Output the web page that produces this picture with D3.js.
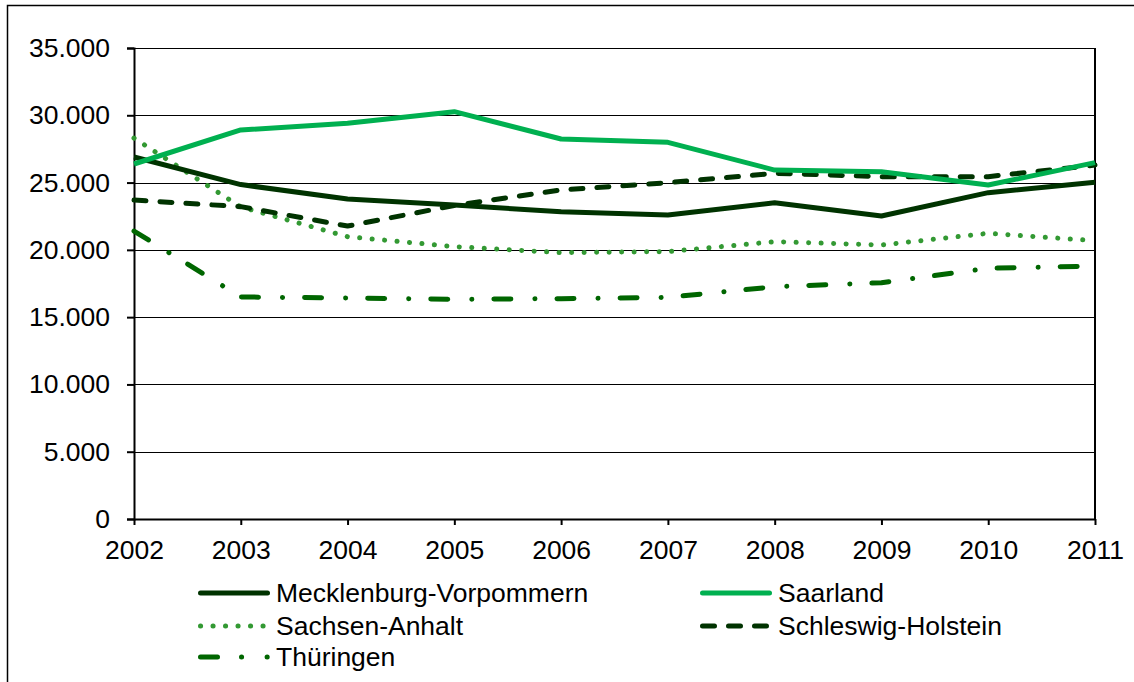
<!DOCTYPE html>
<html><head><meta charset="utf-8">
<script src="https://cdn.jsdelivr.net/npm/d3@7"></script>
<style>body{margin:0;background:#fff;}svg{display:block;font-family:"Liberation Sans",Arial,sans-serif;}</style>
</head><body>
<svg id="c" width="1134" height="682"></svg>
<script>
const years = [2002,2003,2004,2005,2006,2007,2008,2009,2010,2011];
const yTicks = [0,5000,10000,15000,20000,25000,30000,35000];
const mecklenburg = [26900,24850,23780,23330,22830,22590,23500,22520,24250,25020];
const saarland = [26380,28910,29400,30270,28240,27990,25930,25810,24820,26480];
const sachsenAnhalt = [28300,23190,20980,20240,19790,19870,20610,20360,21230,20680];
const schleswig = [23700,23210,21770,23300,24450,24990,25690,25440,25440,26300];
const thueringen = [21400,16500,16420,16330,16370,16470,17260,17560,18630,18800];
const seriesNames = ["Mecklenburg-Vorpommern","Saarland","Sachsen-Anhalt","Schleswig-Holstein","Thüringen"];

const styles = [
  {color:"#003300", dash:null},
  {color:"#00b050", dash:null},
  {color:"#339933", dash:"0.1 12.4"},
  {color:"#003300", dash:"12 14"},
  {color:"#006600", dash:"17 24 0.1 22"}
];
const legendDash = [null, null, "0.1 12.4", "12 14", "17 24 0.1 25.5"];
const legendLen = [67, 67, 67, 67, 66.7];
const data = [mecklenburg, saarland, sachsenAnhalt, schleswig, thueringen];

const FONT = "Liberation Sans, Arial, sans-serif";
const FS = 26.5;
const svg = d3.select("#c");
const L = 134, R = 1095, T = 48, B = 519;
const x = d3.scalePoint().domain(years).range([L, R]);
const y = d3.scaleLinear().domain([0,35000]).range([B, T]);
const de = d3.formatLocale({decimal:",", thousands:".", grouping:[3], currency:["","€"]});
const fmt = de.format(",d");

// outer border (right and bottom edges fall outside the canvas)
svg.append("rect").attr("x",7.5).attr("y",5.5).attr("width",1140).attr("height",700)
  .attr("fill","none").attr("stroke","#000").attr("stroke-width",1.5);

// gridlines
svg.append("g").selectAll("line").data(yTicks.filter(d=>d>0)).join("line")
  .attr("x1",L).attr("x2",R).attr("y1",d=>Math.round(y(d))+0.5).attr("y2",d=>Math.round(y(d))+0.5)
  .attr("stroke","#000").attr("stroke-width",1);
// right border of plot area
svg.append("line").attr("x1",R).attr("x2",R).attr("y1",T).attr("y2",B).attr("stroke","#000").attr("stroke-width",2);

// y axis
const ya = svg.append("g").attr("transform",`translate(${L},0)`)
  .call(d3.axisLeft(y).tickValues(yTicks).tickFormat(fmt).tickSize(7).tickPadding(17));
ya.select(".domain").attr("stroke-width",2);
ya.selectAll(".tick line").attr("stroke-width",2);
ya.selectAll("text").attr("font-size",FS).attr("font-family",FONT).attr("fill","#000");

// x axis
const xa = svg.append("g").attr("transform",`translate(0,${B})`)
  .call(d3.axisBottom(x).tickSize(6).tickPadding(15).tickSizeOuter(0));
xa.select(".domain").attr("stroke-width",2);
xa.selectAll(".tick line").attr("stroke-width",2);
xa.selectAll("text").attr("font-size",FS).attr("font-family",FONT).attr("fill","#000");

// lines
const line = d3.line().x((d,i)=>x(years[i])).y(d=>y(d));
const order = [4,2,3,0,1];
order.forEach(k=>{
  svg.append("path").datum(data[k]).attr("d",line)
    .attr("fill","none").attr("stroke",styles[k].color).attr("stroke-width",5)
    .attr("stroke-linecap", styles[k].dash ? "round" : "butt")
    .attr("stroke-linejoin","round")
    .attr("stroke-dasharray",styles[k].dash);
});

// legend
const legPos = [[198,593],[700,593],[198,626],[700,626],[198,657]];
seriesNames.forEach((n,k)=>{
  const [lx,ly] = legPos[k];
  const g = svg.append("g");
  g.append("line").attr("x1",lx+2.5).attr("x2",lx+2.5+legendLen[k]).attr("y1",ly).attr("y2",ly)
    .attr("stroke",styles[k].color).attr("stroke-width",5)
    .attr("stroke-linecap","round")
    .attr("stroke-dasharray", legendDash[k]);
  g.append("text").attr("x",lx+78).attr("y",ly+9).attr("font-size",FS).attr("font-family",FONT)
    .attr("fill","#000").text(n);
});
</script>
</body></html>
